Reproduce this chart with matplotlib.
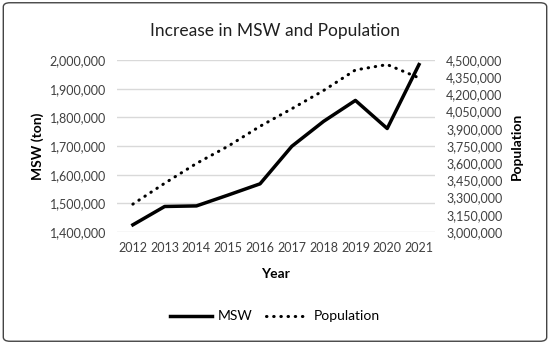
import matplotlib
matplotlib.use("Agg")
import matplotlib.pyplot as plt
from matplotlib.patches import FancyBboxPatch
from matplotlib.ticker import FuncFormatter, MultipleLocator

years = [2012, 2013, 2014, 2015, 2016, 2017, 2018, 2019, 2020, 2021]
msw = [1425000, 1489000, 1491000, 1529000, 1568000, 1699000, 1786000, 1859000, 1761000, 1984000]
population = [3243000, 3425000, 3598000, 3749000, 3922000, 4075000, 4234000, 4413000, 4460000, 4344000]

plt.rcParams['font.family'] = ['Lato', 'DejaVu Sans']

fig = plt.figure(figsize=(5.5, 3.44), dpi=100)
fig.patches.append(FancyBboxPatch((0.006, 0.008), 0.988, 0.984, boxstyle="round,pad=0,rounding_size=0.012",
                                  transform=fig.transFigure, fill=False, edgecolor='#444444', linewidth=1.0))

ax = fig.add_axes([0.2127, 0.3256, 0.578, 0.5])
ax2 = ax.twinx()

l1, = ax.plot(years, msw, color='black', linewidth=2.5, label='MSW', zorder=3)
l2, = ax2.plot(years, population, color='black', linewidth=2.2, linestyle=(0, (0.15, 2.2)), dash_capstyle='round',
               label='Population', zorder=3)

ax.set_xlim(2011.5, 2021.5)
ax.set_ylim(1400000, 2000000)
ax2.set_ylim(3000000, 4500000)
ax.yaxis.set_major_locator(MultipleLocator(100000))
ax2.yaxis.set_major_locator(MultipleLocator(150000))
fmt = FuncFormatter(lambda v, p: f"{int(round(v)):,}")
ax.yaxis.set_major_formatter(fmt)
ax2.yaxis.set_major_formatter(fmt)
ax.set_xticks(years)
ax.set_xticklabels([str(y) for y in years])

ax.grid(axis='y', color='#d9d9d9', linewidth=1.0, zorder=0)
ax.set_axisbelow(True)
for a in (ax, ax2):
    for s in a.spines.values():
        s.set_visible(False)
    a.tick_params(length=0, labelsize=9, colors='#404040')
ax.tick_params(axis='y', pad=8)
ax.tick_params(axis='x', pad=7)
ax2.tick_params(axis='y', pad=8)

ax.set_xlabel('Year', fontsize=10, fontweight='bold', labelpad=10)
ax.set_ylabel('MSW (ton)', fontsize=10, fontweight='bold', labelpad=4)
ax2.set_ylabel('Population', fontsize=10, fontweight='bold', labelpad=6)

fig.text(0.5, 0.91, 'Increase in MSW and Population', ha='center', va='center', fontsize=12.5, color='#202020')

fig.legend(handles=[l1, l2], loc='center', bbox_to_anchor=(0.5, 0.08), ncol=2, frameon=False,
           fontsize=10, handlelength=3.0, columnspacing=1.0, handletextpad=0.4)

fig.savefig('out.png', dpi=100)
